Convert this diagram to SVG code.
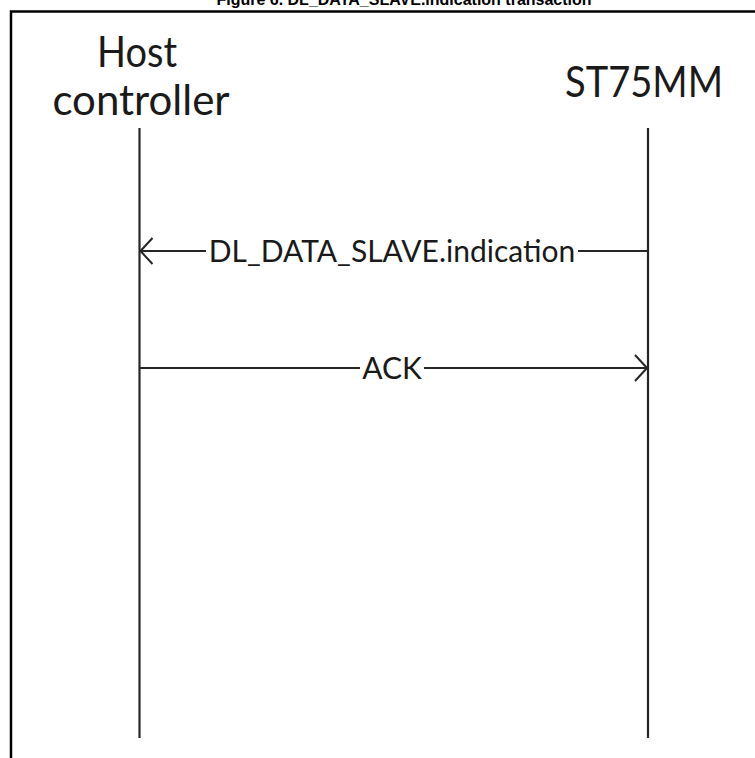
<svg xmlns="http://www.w3.org/2000/svg" width="755" height="758" viewBox="0 0 755 758">
  <style>
    .title { font-family: "Liberation Sans", Arial, sans-serif; font-weight: bold; font-size: 16px; fill: #000; }
    .actor { font-family: Lato, "Open Sans", sans-serif; font-size: 42px; fill: #1a1a1a; }
    .msg { font-family: Lato, "Open Sans", sans-serif; font-size: 30px; fill: #1a1a1a; }
    .life { stroke: #262626; stroke-width: 2.2; fill: none; }
    .arrow { stroke: #262626; stroke-width: 2; fill: none; }
    .frame { stroke: #000; stroke-width: 2.5; fill: none; }
  </style>
  <defs>
    <marker id="chev" viewBox="0 0 14 28" refX="13" refY="14" markerWidth="14" markerHeight="28" markerUnits="userSpaceOnUse" orient="auto-start-reverse">
      <path d="M1,1 L13,14 L1,27" fill="none" stroke="#262626" stroke-width="2"/>
    </marker>
  </defs>
  <rect width="755" height="758" fill="#fff"/>
  <text class="title" x="404" y="5" text-anchor="middle">Figure 6. DL_DATA_SLAVE.indication transaction</text>
  <path class="frame" d="M11,770 V11.5 H760"/>
  <g id="host">
    <text class="actor" x="137" y="67" text-anchor="middle" textLength="80" lengthAdjust="spacingAndGlyphs">Host</text>
    <text class="actor" x="141" y="115" text-anchor="middle">controller</text>
    <line class="life" x1="139.5" y1="128" x2="139.5" y2="738"/>
  </g>
  <g id="st75mm">
    <text class="actor" x="644" y="97" text-anchor="middle" textLength="158" lengthAdjust="spacingAndGlyphs">ST75MM</text>
    <line class="life" x1="648" y1="128" x2="648" y2="738"/>
  </g>
  <g id="connectors">
    <path class="arrow" d="M648,251 H578"/>
    <path class="arrow" d="M206,251 H140.5" marker-end="url(#chev)"/>
    <text class="msg" x="392" y="262" text-anchor="middle">DL_DATA_SLAVE.indication</text>
    <path class="arrow" d="M140,368 H360"/>
    <path class="arrow" d="M424,368 H647" marker-end="url(#chev)"/>
    <text class="msg" x="392" y="379" text-anchor="middle">ACK</text>
  </g>
</svg>
